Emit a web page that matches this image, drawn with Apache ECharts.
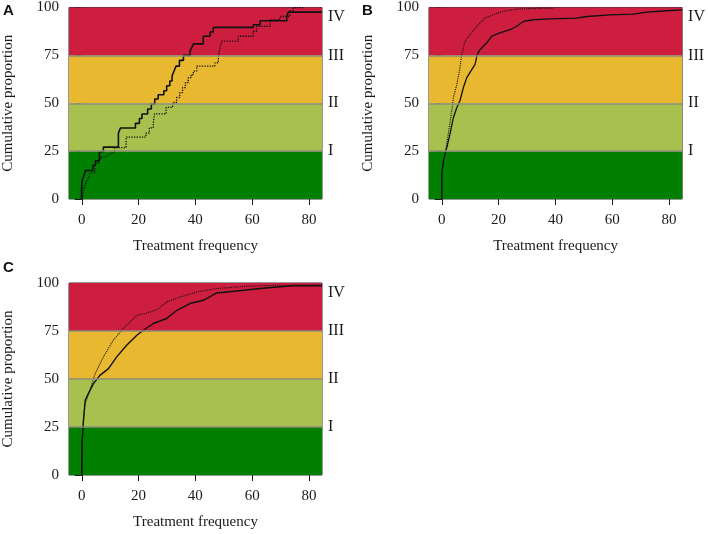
<!DOCTYPE html>
<html>
<head>
<meta charset="utf-8">
<script src="https://cdn.jsdelivr.net/npm/echarts@6/dist/echarts.min.js"></script>
<style>html,body{margin:0;padding:0;background:#fff}#c{width:708px;height:534px}</style>
</head>
<body>
<div id="c"></div>
<script>
// ---- data ----
const xTicks = [0, 20, 40, 60, 80];
const yTicks = [0, 25, 50, 75, 100];
const bandEdges = [0, 25, 50, 75, 100];
const bandColors = ['#007f00', '#a8c14e', '#e8b830', '#cd1e40'];
const bandLabels = ['I', 'II', 'III', 'IV'];
const bandLabelValues = [25, 50, 75, 95];
const panelLetters = ['A', 'B', 'C'];

// Panel A (step curves)
const aSolid = [[-0.1,0],[-0.1,5.0],[0.2,10.2],[0.7,11.9],[1.3,14.9],[3.9,17.6],[4.8,20.0],[6.2,24.7],[7.6,27.1],[12.9,34.4],[13.6,37.1],[18.9,39.5],[20.3,42.0],[21.2,44.4],[23.2,47.0],[24.5,49.6],[25.7,52.2],[26.9,54.4],[28.9,56.5],[29.9,59.1],[31.0,61.6],[31.8,64.2],[32.5,66.8],[33.2,69.4],[34.4,72.4],[35.8,75.0],[38.1,77.2],[38.7,78.9],[39.3,81.0],[42.8,85.0],[45.2,87.2],[46.3,89.6],[60.4,91.0],[62.8,93.1],[72.2,95.3],[72.7,97.6],[84.6,97.6]];
const aDotted = [[0.3,0],[0.3,2.5],[0.6,5.0],[1.3,7.3],[1.8,9.8],[2.5,11.2],[2.9,13.6],[4.6,16.4],[5.0,18.8],[6.2,20.2],[6.8,21.9],[8.3,22.8],[9.2,23.7],[10.3,24.5],[11.5,26.8],[15.6,32.3],[22.6,34.4],[23.8,37.1],[25.2,40.0],[25.6,44.4],[29.7,47.8],[32.0,50.4],[33.4,53.0],[34.5,55.6],[35.5,58.2],[36.5,60.8],[37.5,63.4],[38.5,65.0],[39.3,66.8],[40.5,69.4],[46.9,71.1],[48.1,74.6],[48.7,78.9],[49.3,82.4],[55.1,85.0],[60.4,87.6],[61.6,90.2],[66.3,93.6],[69.8,95.3],[73.3,98.4],[74.5,100],[78,100]];

// Panel B
const bSolid = [[0,0],[0,13.3],[0.6,20.2],[1.8,27.1],[2.9,34.0],[4.1,42.6],[5.3,47.8],[6.4,51.3],[7.6,58.2],[8.8,63.4],[10.6,67.7],[11.7,70.3],[12.5,75.5],[13.5,78.1],[15.8,81.5],[17.6,85.0],[20.5,86.7],[24.0,88.4],[26.4,90.2],[28.7,92.7],[32.3,93.6],[38.1,94.1],[47.5,94.5],[51.0,95.3],[59.3,96.2],[67.5,96.5],[72.2,97.6],[79.2,98.3],[84.6,98.8]];
const bDotted = [[0,0],[0,13.3],[1.2,23.7],[2.3,34.0],[3.5,46.1],[4.1,53.0],[5.3,59.9],[6.4,68.5],[7.0,75.5],[8.2,82.4],[9.9,85.8],[12.3,90.2],[15.2,94.5],[19.4,97.0],[22.9,98.4],[27.6,99.3],[39.3,99.7]];

// Panel C
const cSolid = [[0,0],[0.1,16.4],[0.6,28.5],[1.2,38.9],[2.3,42.4],[4.1,47.6],[6.4,51.9],[9.4,55.4],[12.3,61.5],[15.8,67.6],[19.4,72.8],[21.7,75.4],[25.2,78.9],[29.9,81.5],[33.5,85.8],[38.1,89.3],[42.8,91.0],[47.5,94.8],[54.6,95.8],[62.8,97.1],[68.7,97.9],[74.5,98.6],[84.6,98.6]];
const cDotted = [[0,0],[0.1,16.4],[0.6,28.5],[1.2,37.2],[2.9,44.1],[4.7,52.8],[7.6,61.5],[11.1,70.2],[14.6,76.3],[19.4,83.2],[22.9,84.4],[26.4,86.1],[29.9,90.1],[34.6,92.7],[40.5,95.3],[47.5,97.1],[58.1,98.3],[68.7,98.8],[84.6,99.0]];

// ---- chart ----
const serif = 'Liberation Serif';
const txt = '#1a1a1a';
const grids = [
  {left: 69, top: 6, width: 253, height: 193},
  {left: 429, top: 6, width: 254, height: 193},
  {left: 69, top: 283, width: 253, height: 192}
];
const panels = [
  {solid: aSolid, dotted: aDotted, step: 'end', sw: 1.6, dw: 1.3},
  {solid: bSolid, dotted: bDotted, step: false, sw: 1.3, dw: 1.1},
  {solid: cSolid, dotted: cDotted, step: false, sw: 1.4, dw: 1.1}
];

const xAxis = [], yAxis = [], series = [];
grids.forEach((g, i) => {
  xAxis.push({
    type: 'value', gridIndex: i, min: -4.5, max: 84.6,
    axisLine: {show: false},
    axisTick: {show: true, length: 6, customValues: xTicks, lineStyle: {color: txt, width: 1}},
    axisLabel: {customValues: xTicks, fontFamily: serif, fontSize: 15, color: txt, margin: 14},
    splitLine: {show: false},
    name: 'Treatment frequency', nameLocation: 'middle', nameGap: 40,
    nameTextStyle: {fontFamily: serif, fontSize: 15, color: txt}
  });
  yAxis.push({
    type: 'value', gridIndex: i, min: 0, max: 100, interval: 25, position: 'left',
    axisLine: {show: false},
    axisTick: {show: true, length: 7, lineStyle: {color: txt, width: 1}},
    axisLabel: {fontFamily: serif, fontSize: 15, color: txt, margin: 10},
    splitLine: {show: false},
    name: 'Cumulative proportion', nameLocation: 'middle', nameGap: 53, nameRotate: 90,
    nameTextStyle: {fontFamily: serif, fontSize: 15, color: txt}
  });
  yAxis.push({
    type: 'value', gridIndex: i, min: 0, max: 100, position: 'right',
    axisLine: {show: false}, axisTick: {show: false}, splitLine: {show: false},
    axisLabel: {
      customValues: bandLabelValues, fontFamily: serif, fontSize: 16, color: txt, margin: 6,
      formatter: v => bandLabels[bandLabelValues.indexOf(v)] || ''
    }
  });
  const yi = i * 2;
  series.push({
    type: 'line', xAxisIndex: i, yAxisIndex: yi, data: [], z: 1, silent: true,
    markArea: {
      silent: true,
      data: bandColors.map((c, k) => [
        {yAxis: bandEdges[k], itemStyle: {color: c, opacity: 1}},
        {yAxis: bandEdges[k + 1]}
      ])
    },
    markLine: {
      silent: true, symbol: 'none', label: {show: false},
      lineStyle: {color: '#8c8c78', width: 1.5, type: 'solid'},
      data: bandEdges.slice(1, 4).map(v => ({yAxis: v}))
    }
  });
  const p = panels[i];
  series.push({
    type: 'line', xAxisIndex: i, yAxisIndex: yi, data: p.dotted, step: p.step,
    showSymbol: false, z: 3, silent: true,
    lineStyle: {color: '#111', width: p.dw, type: 'dotted'}
  });
  series.push({
    type: 'line', xAxisIndex: i, yAxisIndex: yi, data: p.solid, step: p.step,
    showSymbol: false, z: 4, silent: true,
    lineStyle: {color: '#111', width: p.sw, type: 'solid'}
  });
});

const letterPos = [[3, 3], [362, 3], [3, 260]];
const chart = echarts.init(document.getElementById('c'), null, {renderer: 'canvas'});
chart.setOption({
  animation: false,
  backgroundColor: '#fff',
  grid: grids.map(g => Object.assign({show: true, borderColor: '#333', borderWidth: 1, backgroundColor: 'transparent'}, g)),
  xAxis, yAxis, series,
  graphic: panelLetters.map((t, i) => ({
    type: 'text', left: letterPos[i][0], top: letterPos[i][1],
    style: {text: t, font: 'bold 15px "Liberation Sans"', fill: '#111'}
  }))
});
</script>
</body>
</html>
